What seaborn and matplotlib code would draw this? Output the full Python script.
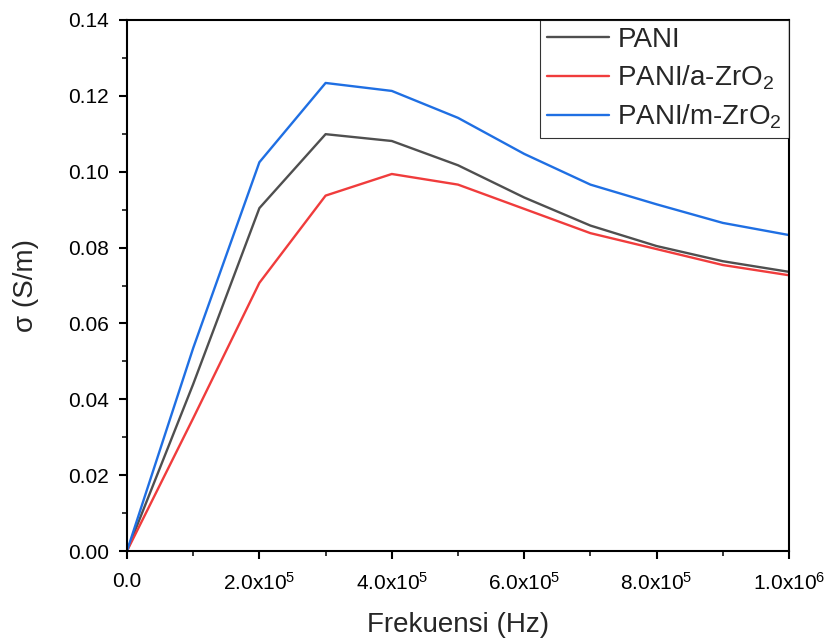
import matplotlib
matplotlib.use("Agg")
import math
import matplotlib.pyplot as plt
import seaborn as sns
import pandas as pd
from matplotlib.ticker import MultipleLocator, FuncFormatter

freq = [0, 1e5, 2e5, 3e5, 4e5, 5e5, 6e5, 7e5, 8e5, 9e5, 1e6]
pani = [0, 0.0440, 0.0904, 0.1099, 0.1081, 0.1017, 0.0932, 0.0858, 0.0804, 0.0764, 0.0736]
pani_a = [0, 0.0350, 0.0707, 0.0937, 0.0994, 0.0966, 0.0902, 0.0838, 0.0796, 0.0754, 0.0727]
pani_m = [0, 0.0535, 0.1025, 0.1234, 0.1213, 0.1142, 0.1047, 0.0966, 0.0914, 0.0865, 0.0833]
labels = ["PANI", r"PANI/a-ZrO$_2$", r"PANI/m-ZrO$_2$"]
colors = ["#4f4f4f", "#f03c3c", "#1f6fe3"]

df = pd.concat([
    pd.DataFrame({"f": freq, "s": v, "series": lab})
    for v, lab in zip([pani, pani_a, pani_m], labels)
])

sns.set_theme(style="ticks")
plt.rcParams["font.family"] = ["Liberation Sans", "DejaVu Sans"]
plt.rcParams["mathtext.fontset"] = "custom"
plt.rcParams["mathtext.rm"] = "Liberation Sans"
plt.rcParams["mathtext.it"] = "Liberation Sans"

fig = plt.figure(figsize=(8.31, 6.41), dpi=100)
ax = fig.add_axes([0.1528, 0.1404, 0.7967, 0.8284])
sns.lineplot(data=df, x="f", y="s", hue="series", palette=colors, ax=ax, linewidth=1.7)

ax.set_xlim(0, 1e6)
ax.set_ylim(0, 0.14)
ax.xaxis.set_major_locator(MultipleLocator(2e5))
ax.xaxis.set_minor_locator(MultipleLocator(1e5))
ax.yaxis.set_major_locator(MultipleLocator(0.02))
ax.yaxis.set_minor_locator(MultipleLocator(0.01))

def xfmt(v, pos):
    if abs(v) < 1:
        return "0.0"
    if v < 0:
        return ""
    e = int(math.floor(math.log10(v) + 1e-9))
    m = v / 10 ** e
    return r"%.1fx10$^{%d}$" % (m, e)

ax.xaxis.set_major_formatter(FuncFormatter(xfmt))
ax.yaxis.set_major_formatter(FuncFormatter(lambda v, p: "%.2f" % (0.0 if abs(v) < 1e-9 else v)))
ax.tick_params(which="major", direction="out", length=5.8, width=1.5, labelsize=15, colors="black")
ax.tick_params(axis="y", which="major", pad=7)
ax.tick_params(axis="x", which="major", pad=9)
ax.tick_params(which="minor", direction="out", length=3.5, width=1.3)
for s in ax.spines.values():
    s.set_linewidth(1.5)
    s.set_color("black")

ax.set_xlabel("Frekuensi (Hz)", fontsize=20, labelpad=13)
ax.set_ylabel("σ (S/m)", fontsize=20, labelpad=21)

leg = ax.legend(loc="upper right", fontsize=20, frameon=True, fancybox=False,
                edgecolor="black", borderaxespad=0.0, handlelength=2.25,
                borderpad=0.25, labelspacing=0.38, handletextpad=0.3)
leg.get_frame().set_linewidth(0.8)
for line in leg.get_lines():
    line.set_linewidth(1.7)

fig.savefig("out.png", dpi=100)
